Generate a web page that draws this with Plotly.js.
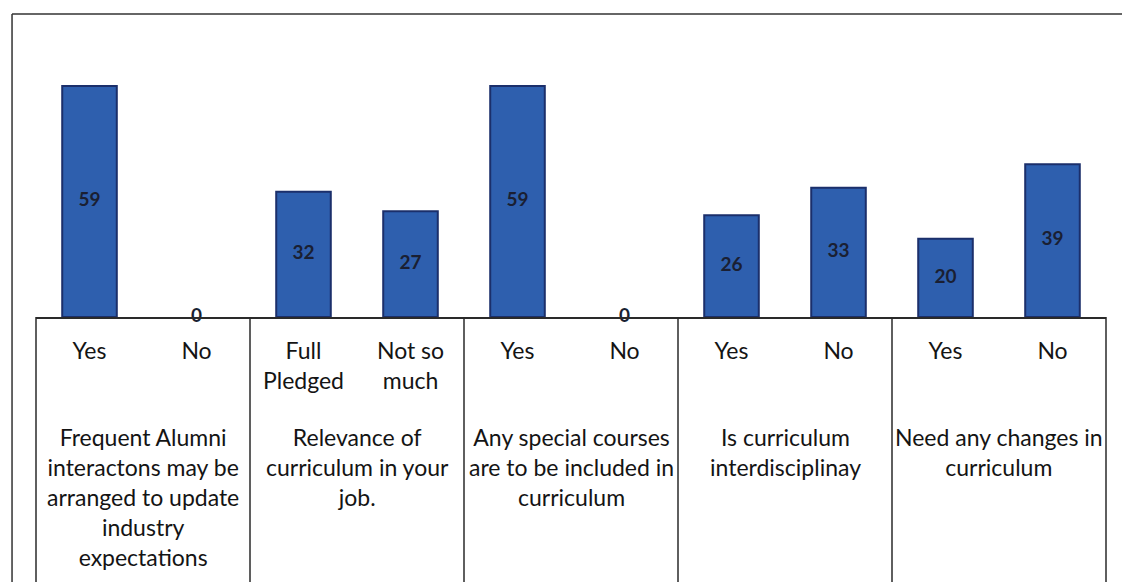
<!DOCTYPE html>
<html>
<head>
<meta charset="utf-8">
<script src="https://cdn.plot.ly/plotly-3.0.1.min.js"></script>
<style>html,body{margin:0;padding:0;background:#fff;}#chart{width:1122px;height:582px;}</style>
</head>
<body>
<div id="chart"></div>
<script>
// ---- data ----
const categories = ["Yes", "No", "Full<br>Pledged", "Not so<br>much", "Yes", "No", "Yes", "No", "Yes", "No"];
const values = [59, 0, 32, 27, 59, 0, 26, 33, 20, 39];
const groupLabels = [
  "Frequent Alumni<br>interactons may be<br>arranged to update<br>industry<br>expectations",
  "Relevance of<br>curriculum in your<br>job.",
  "Any special courses<br>are to be included in<br>curriculum",
  "Is curriculum<br>interdisciplinay",
  "Need any changes in<br>curriculum"
];
const groupSizes = [2, 2, 2, 2, 2];

// ---- build ----
const idx = categories.map((c, i) => i);
const n = categories.length;
const FONT = "Lato, 'Open Sans', sans-serif";
const INK = "#141414";

const bars = {
  type: "bar",
  x: idx,
  y: values,
  marker: {
    color: "#2e5fae",
    line: { color: "#1b2f6b", width: values.map(v => (v > 0 ? 2 : 0)) }
  },
  hoverinfo: "skip",
  showlegend: false
};
const labels = {
  type: "scatter",
  mode: "text",
  x: idx,
  y: values.map(v => v / 2),
  text: values.map(String),
  textposition: "middle center",
  textfont: { family: FONT, size: 19, color: "#1a1f33", weight: "bold" },
  cliponaxis: false,
  hoverinfo: "skip",
  showlegend: false
};

const shapes = [];
const annotations = [];
let start = 0;
const bounds = [0];
groupSizes.forEach((s, g) => {
  annotations.push({
    xref: "paper", yref: "paper",
    x: (start + s / 2) / n, y: -0.38,
    xanchor: "center", yanchor: "top", align: "center",
    text: groupLabels[g], showarrow: false,
    font: { family: FONT, size: 23, color: INK }
  });
  start += s;
  bounds.push(start);
});
bounds.forEach(b => {
  shapes.push({
    type: "line", xref: "paper", yref: "paper",
    x0: b / n, x1: b / n, y0: 0, y1: -1.2,
    line: { color: "#2a2a2a", width: 1.5 }
  });
});
// outer chart frame (left and top edges)
shapes.push({ type: "line", xref: "paper", yref: "paper", x0: -0.0224, x1: -0.0224, y0: 1.106, y1: -1.2, line: { color: "#333", width: 1.5 } });
shapes.push({ type: "line", xref: "paper", yref: "paper", x0: -0.0224, x1: 1.02, y0: 1.106, y1: 1.106, line: { color: "#333", width: 1.5 } });

const layout = {
  width: 1122, height: 582,
  margin: { l: 36, r: 16, t: 43, b: 265 },
  paper_bgcolor: "#fff", plot_bgcolor: "#fff",
  bargap: 0.49,
  showlegend: false,
  hovermode: false,
  xaxis: {
    range: [-0.5, n - 0.5],
    tickvals: idx, ticktext: categories,
    showline: true, linecolor: "#2a2a2a", linewidth: 1.5,
    ticks: "", showgrid: false, zeroline: false,
    ticklabelstandoff: 13,
    tickfont: { family: FONT, size: 23, color: INK },
    fixedrange: true
  },
  yaxis: {
    range: [0, 70],
    showticklabels: false, showgrid: false, zeroline: false, showline: false,
    fixedrange: true
  },
  shapes: shapes,
  annotations: annotations
};

Plotly.newPlot("chart", [bars, labels], layout, { displayModeBar: false, staticPlot: true });
</script>
</body>
</html>
